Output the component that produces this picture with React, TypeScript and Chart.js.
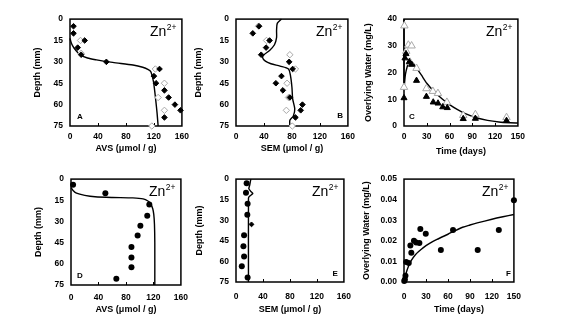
import React, { useEffect, useRef } from 'react';
import { Chart, registerables } from 'chart.js';
Chart.register(...registerables);

// ---------- tick labels ----------
const concTicksAVS = [0, 40, 80, 120, 160];
const depthTicks = [0, 15, 30, 45, 60, 75];
const timeTicks = [0, 30, 60, 90, 120, 150];
const waterTicksC = [0, 10, 20, 30, 40];
const waterTicksF = [0, 0.01, 0.02, 0.03, 0.04, 0.05];

// ---------- Panel A: AVS profile ----------
const aFilledAvs = [5, 5, 21, 11, 16, 52, 128, 120, 123, 135, 141, 150, 158, 135];
const aFilledDepth = [5, 10, 15, 20, 25, 30, 35, 40, 45, 50, 55, 60, 64, 69];
const aOpenAvs = [15, 16, 122, 135, 126, 135, 117];
const aOpenDepth = [15, 24, 35, 45, 55, 64, 75];
const aModelAvs = [0, 2, 5.7, 14, 25, 38, 61, 90, 104, 112, 115.6, 119.4, 121, 122.7, 124.5, 126];
const aModelDepth = [13.5, 17, 20.3, 24.8, 27.3, 28.6, 30.4, 32.2, 33.8, 35.5, 37, 44, 50, 57.4, 66, 75];

// ---------- Panel B: SEM profile ----------
const bFilledSem = [33, 24, 48, 43, 36, 76, 81, 65, 57, 67, 77, 95, 92.5, 85];
const bFilledDepth = [5, 10, 15, 20, 25, 30, 35, 40, 45, 50, 55, 60, 64, 69];
const bOpenSem = [32, 43.6, 77, 85, 73, 75, 72, 80.5];
const bOpenDepth = [5, 15, 25, 35, 45, 55, 64, 75];
const bModelSem = [65, 59, 58, 58, 55, 48, 40, 38, 42, 50, 63, 75, 78, 80, 81, 84, 82, 77, 77];
const bModelDepth = [0, 3, 8, 13, 18, 22, 25, 27, 29.5, 31.3, 33, 35, 40, 48, 56, 63, 68, 71, 75];

// ---------- Panel C: overlying water ----------
const cOpenDay = [0.5, 0, 3, 5.7, 10, 8, 16.5, 29.5, 38, 44.7, 56.5, 78, 94, 135];
const cOpenConc = [37.5, 14.5, 28, 30.3, 30, 23.9, 21.6, 14, 13, 12.2, 8.9, 4, 4.3, 3.2];
const cFilledDay = [0, 1.3, 2.6, 7, 10, 16.5, 29.5, 38.5, 44.8, 51, 57, 78, 94, 135];
const cFilledConc = [10.5, 25.4, 27, 24, 23, 17, 11, 8.9, 8.5, 7.1, 6.8, 2.7, 2.8, 2];
const cModelDay = [0, 0, 1, 2, 4, 6, 9, 12, 17, 23, 30, 40, 50, 60, 70, 80, 95, 110, 125, 140, 150];
const cModelConc = [40, 14, 17, 19.5, 22, 23.5, 24.2, 23.5, 21.5, 19, 16, 12.8, 10.2, 8, 6.2, 4.7, 3.1, 2.1, 1.5, 1.2, 1.1];

// ---------- Panel D: AVS profile ----------
const dAvs = [3, 50, 114, 111, 101, 97, 88, 88, 88, 66];
const dDepth = [4, 10, 18, 26, 33, 40, 48, 55.5, 62.5, 70.5];
const dModelAvs = [0, 3, 8, 20, 35, 60, 90, 105, 112, 116, 119, 120.5, 121.5, 122, 122];
const dModelDepth = [6, 8, 10, 11.5, 12.5, 13, 13.3, 14, 15.5, 17.5, 21, 25, 32, 45, 75];

// ---------- Panel E: SEM profile ----------
const eSem = [15.8, 14.8, 17.2, 16.8, 12, 11, 12, 8.6, 17.2];
const eDepth = [3, 10, 18, 26, 41, 49, 56.4, 63.6, 71.7];
const eMarkSem = [23];
const eMarkDepth = [33];
const eModelSem = [22, 20.5, 19, 22, 25, 20, 18.5, 18.5];
const eModelDepth = [0, 4, 7, 9, 10.5, 12.5, 14, 75];

// ---------- Panel F: overlying water ----------
const fDay = [0.3, 1.2, 2, 3, 6.5, 8.7, 10, 13.6, 16.6, 21, 22.3, 29.7, 50.3, 66.9, 100.6, 129.4, 150];
const fConc = [0.0005, 0.0012, 0.003, 0.0097, 0.0092, 0.0177, 0.0142, 0.02, 0.0192, 0.019, 0.0258, 0.0234, 0.0155, 0.0253, 0.0155, 0.0253, 0.0397];
const fModelDay = [0, 1, 3, 6, 10, 15, 20, 30, 45, 60, 70, 80, 90, 100, 120, 135, 150];
const fModelConc = [0, 0.002, 0.0045, 0.0075, 0.0105, 0.013, 0.0148, 0.0177, 0.0207, 0.0232, 0.025, 0.0266, 0.0277, 0.0287, 0.0305, 0.0317, 0.0328];

const FONT = "'Liberation Sans', Arial, Helvetica, sans-serif";
const PT = 8;
const PR = 12;

const pts = (xs: number[], ys: number[]) => xs.map((x, i) => ({ x, y: ys[i] }));

const curve = (xs: number[], ys: number[], tension = 0.25) => ({
  data: pts(xs, ys),
  showLine: true,
  borderColor: '#000',
  borderWidth: 1.4,
  pointRadius: 0,
  tension,
  clip: false,
  order: 3,
});
const filledDiamond = (xs: number[], ys: number[]) => ({
  data: pts(xs, ys), pointStyle: 'rectRot', pointRadius: 2.8, backgroundColor: '#000', borderColor: '#000', borderWidth: 1, showLine: false, clip: false, order: 0,
});
const openDiamond = (xs: number[], ys: number[]) => ({
  data: pts(xs, ys), pointStyle: 'rectRot', pointRadius: 3.2, backgroundColor: '#fff', borderColor: '#a8a8a8', borderWidth: 1, showLine: false, clip: false, order: 1,
});
const filledTri = (xs: number[], ys: number[]) => ({
  data: pts(xs, ys), pointStyle: 'triangle', pointRadius: 3.5, backgroundColor: '#000', borderColor: '#000', borderWidth: 1, showLine: false, clip: false, order: 0,
});
const openTri = (xs: number[], ys: number[]) => ({
  data: pts(xs, ys), pointStyle: 'triangle', pointRadius: 4.3, backgroundColor: '#fff', borderColor: '#a8a8a8', borderWidth: 1, showLine: false, clip: false, order: 1,
});
const dots = (xs: number[], ys: number[]) => ({
  data: pts(xs, ys), pointStyle: 'circle', pointRadius: 3, backgroundColor: '#000', borderColor: '#000', borderWidth: 0, showLine: false, clip: false, order: 0,
});

const decorPlugin = {
  id: 'panelDecor',
  beforeDatasetsDraw(chart: any) {
    const { ctx, chartArea } = chart;
    const { left, top, right, bottom } = chartArea;
    ctx.save();
    ctx.strokeStyle = '#000';
    ctx.lineWidth = 1;
    const xs = chart.scales.x;
    xs.ticks.forEach((t: any) => {
      const px = Math.round(xs.getPixelForValue(t.value)) + 0.5;
      if (px > left + 2 && px < right - 2) {
        ctx.beginPath();
        ctx.moveTo(px, bottom);
        ctx.lineTo(px, bottom - 3);
        ctx.stroke();
      }
    });
    ctx.lineWidth = 1.5;
    ctx.strokeRect(left, top, right - left, bottom - top);
    ctx.restore();
  },
  afterDatasetsDraw(chart: any, _args: any, opts: any) {
    const { ctx, chartArea } = chart;
    const { left, top, right, bottom } = chartArea;
    ctx.save();
    ctx.fillStyle = '#000';
    ctx.textBaseline = 'alphabetic';
    // Zn2+
    ctx.font = `14px ${FONT}`;
    const wZn = ctx.measureText('Zn').width;
    ctx.font = `8.5px ${FONT}`;
    const wSup = ctx.measureText('2+').width;
    const endX = right - 6;
    const base = top + 17;
    const startX = endX - wSup - wZn;
    ctx.font = `14px ${FONT}`;
    ctx.textAlign = 'left';
    ctx.fillText('Zn', startX, base);
    ctx.font = `8.5px ${FONT}`;
    ctx.fillText('2+', startX + wZn + 0.5, base - 6.5);
    // panel letter
    ctx.font = `bold 8px ${FONT}`;
    if (opts.side === 'left') {
      ctx.textAlign = 'left';
      ctx.fillText(opts.letter, left + opts.dx, bottom - opts.dy);
    } else {
      ctx.textAlign = 'right';
      ctx.fillText(opts.letter, right - opts.dx, bottom - opts.dy);
    }
    ctx.restore();
  },
};

type Panel = {
  key: string;
  L: number; T: number; R: number; B: number;
  yW: number; xH: number; xPad: number;
  xTitle: string; yTitle: string;
  xMin: number; xMax: number; xTicks: number[];
  yMin: number; yMax: number; yTicks: number[]; yReverse: boolean; yDec: number;
  datasets: any[];
  letter: string; side: 'left' | 'right'; dx: number; dy: number;
};

const panels: Panel[] = [
  {
    key: 'A', L: 70, T: 15, R: 183, B: 126, yW: 38, xH: 28, xPad: 6,
    xTitle: 'AVS (\u03bcmol / g)', yTitle: 'Depth (mm)',
    xMin: 0, xMax: 160, xTicks: concTicksAVS, yMin: 0, yMax: 75, yTicks: depthTicks, yReverse: true, yDec: 0,
    datasets: [filledDiamond(aFilledAvs, aFilledDepth), openDiamond(aOpenAvs, aOpenDepth), curve(aModelAvs, aModelDepth)],
    letter: 'A', side: 'left', dx: 7, dy: 7,
  },
  {
    key: 'B', L: 236, T: 15, R: 349, B: 126, yW: 43, xH: 28, xPad: 6,
    xTitle: 'SEM (\u03bcmol / g)', yTitle: 'Depth (mm)',
    xMin: 0, xMax: 160, xTicks: concTicksAVS, yMin: 0, yMax: 75, yTicks: depthTicks, yReverse: true, yDec: 0,
    datasets: [filledDiamond(bFilledSem, bFilledDepth), openDiamond(bOpenSem, bOpenDepth), curve(bModelSem, bModelDepth)],
    letter: 'B', side: 'right', dx: 5, dy: 8,
  },
  {
    key: 'C', L: 404, T: 15, R: 519, B: 126, yW: 41, xH: 31, xPad: 6,
    xTitle: 'Time (days)', yTitle: 'Overlying Water (mg/L)',
    xMin: 0, xMax: 150, xTicks: timeTicks, yMin: 0, yMax: 40, yTicks: waterTicksC, yReverse: false, yDec: 0,
    datasets: [filledTri(cFilledDay, cFilledConc), openTri(cOpenDay, cOpenConc), curve(cModelDay, cModelConc, 0.2)],
    letter: 'C', side: 'left', dx: 5, dy: 7,
  },
  {
    key: 'D', L: 71, T: 175, R: 184, B: 285, yW: 38, xH: 30, xPad: 8,
    xTitle: 'AVS (\u03bcmol / g)', yTitle: 'Depth (mm)',
    xMin: 0, xMax: 160, xTicks: concTicksAVS, yMin: 0, yMax: 75, yTicks: depthTicks, yReverse: true, yDec: 0,
    datasets: [dots(dAvs, dDepth), curve(dModelAvs, dModelDepth)],
    letter: 'D', side: 'left', dx: 6, dy: 7,
  },
  {
    key: 'E', L: 236, T: 175, R: 349, B: 282, yW: 42, xH: 33, xPad: 10,
    xTitle: 'SEM (\u03bcmol / g)', yTitle: 'Depth (mm)',
    xMin: 0, xMax: 160, xTicks: concTicksAVS, yMin: 0, yMax: 75, yTicks: depthTicks, yReverse: true, yDec: 0,
    datasets: [dots(eSem, eDepth), { ...filledDiamond(eMarkSem, eMarkDepth), pointRadius: 2.4 }, curve(eModelSem, eModelDepth, 0.15)],
    letter: 'E', side: 'right', dx: 6, dy: 6,
  },
  {
    key: 'F', L: 404, T: 175, R: 519, B: 282, yW: 43, xH: 33, xPad: 10,
    xTitle: 'Time (days)', yTitle: 'Overlying Water (mg/L)',
    xMin: 0, xMax: 150, xTicks: timeTicks, yMin: 0, yMax: 0.05, yTicks: waterTicksF, yReverse: false, yDec: 2,
    datasets: [dots(fDay, fConc), curve(fModelDay, fModelConc)],
    letter: 'F', side: 'right', dx: 3, dy: 6,
  },
];

function PanelChart({ p }: { p: Panel }) {
  const ref = useRef<HTMLCanvasElement | null>(null);
  const width = p.yW + (p.R - p.L) + PR;
  const height = PT + (p.B - p.T) + p.xH;
  useEffect(() => {
    if (!ref.current) return;
    const tickFont = { family: FONT, size: 8.5, weight: 'bold' as const };
    const titleFont = { family: FONT, size: 9, weight: 'bold' as const };
    const chart = new Chart(ref.current, {
      type: 'scatter',
      data: { datasets: p.datasets },
      plugins: [decorPlugin],
      options: {
        responsive: false,
        animation: false,
        layout: { padding: { top: PT, right: PR, left: 0, bottom: 0 } },
        plugins: {
          legend: { display: false },
          tooltip: { enabled: false },
          panelDecor: { letter: p.letter, side: p.side, dx: p.dx, dy: p.dy },
        } as any,
        scales: {
          x: {
            type: 'linear',
            position: 'bottom',
            min: p.xMin,
            max: p.xMax,
            grid: { display: false, drawTicks: false },
            border: { display: false },
            afterBuildTicks: (s: any) => { s.ticks = p.xTicks.map((v) => ({ value: v })); },
            afterFit: (s: any) => { s.height = p.xH; },
            ticks: { padding: p.xPad, font: tickFont, color: '#000', maxRotation: 0, autoSkip: false, callback: (v: any) => String(v) },
            title: { display: true, text: p.xTitle, font: titleFont, color: '#000', padding: 0 },
          },
          y: {
            type: 'linear',
            position: 'left',
            min: p.yMin,
            max: p.yMax,
            reverse: p.yReverse,
            grid: { display: false, drawTicks: false },
            border: { display: false },
            afterBuildTicks: (s: any) => { s.ticks = p.yTicks.map((v) => ({ value: v })); },
            afterFit: (s: any) => { s.width = p.yW; },
            ticks: { padding: 7, font: tickFont, color: '#000', autoSkip: false, callback: (v: any) => Number(v).toFixed(p.yDec) },
            title: { display: true, text: p.yTitle, font: titleFont, color: '#000', padding: 0 },
          },
        },
      } as any,
    });
    return () => chart.destroy();
  }, [p]);
  return (
    <canvas
      ref={ref}
      width={width}
      height={height}
      style={{ position: 'absolute', left: p.L - p.yW, top: p.T - PT, width, height }}
    />
  );
}

export default function App() {
  return (
    <div style={{ position: 'absolute', left: 0, top: 0, width: 585, height: 322, background: '#fff', overflow: 'hidden' }}>
      {panels.map((p) => (
        <PanelChart key={p.key} p={p} />
      ))}
    </div>
  );
}
